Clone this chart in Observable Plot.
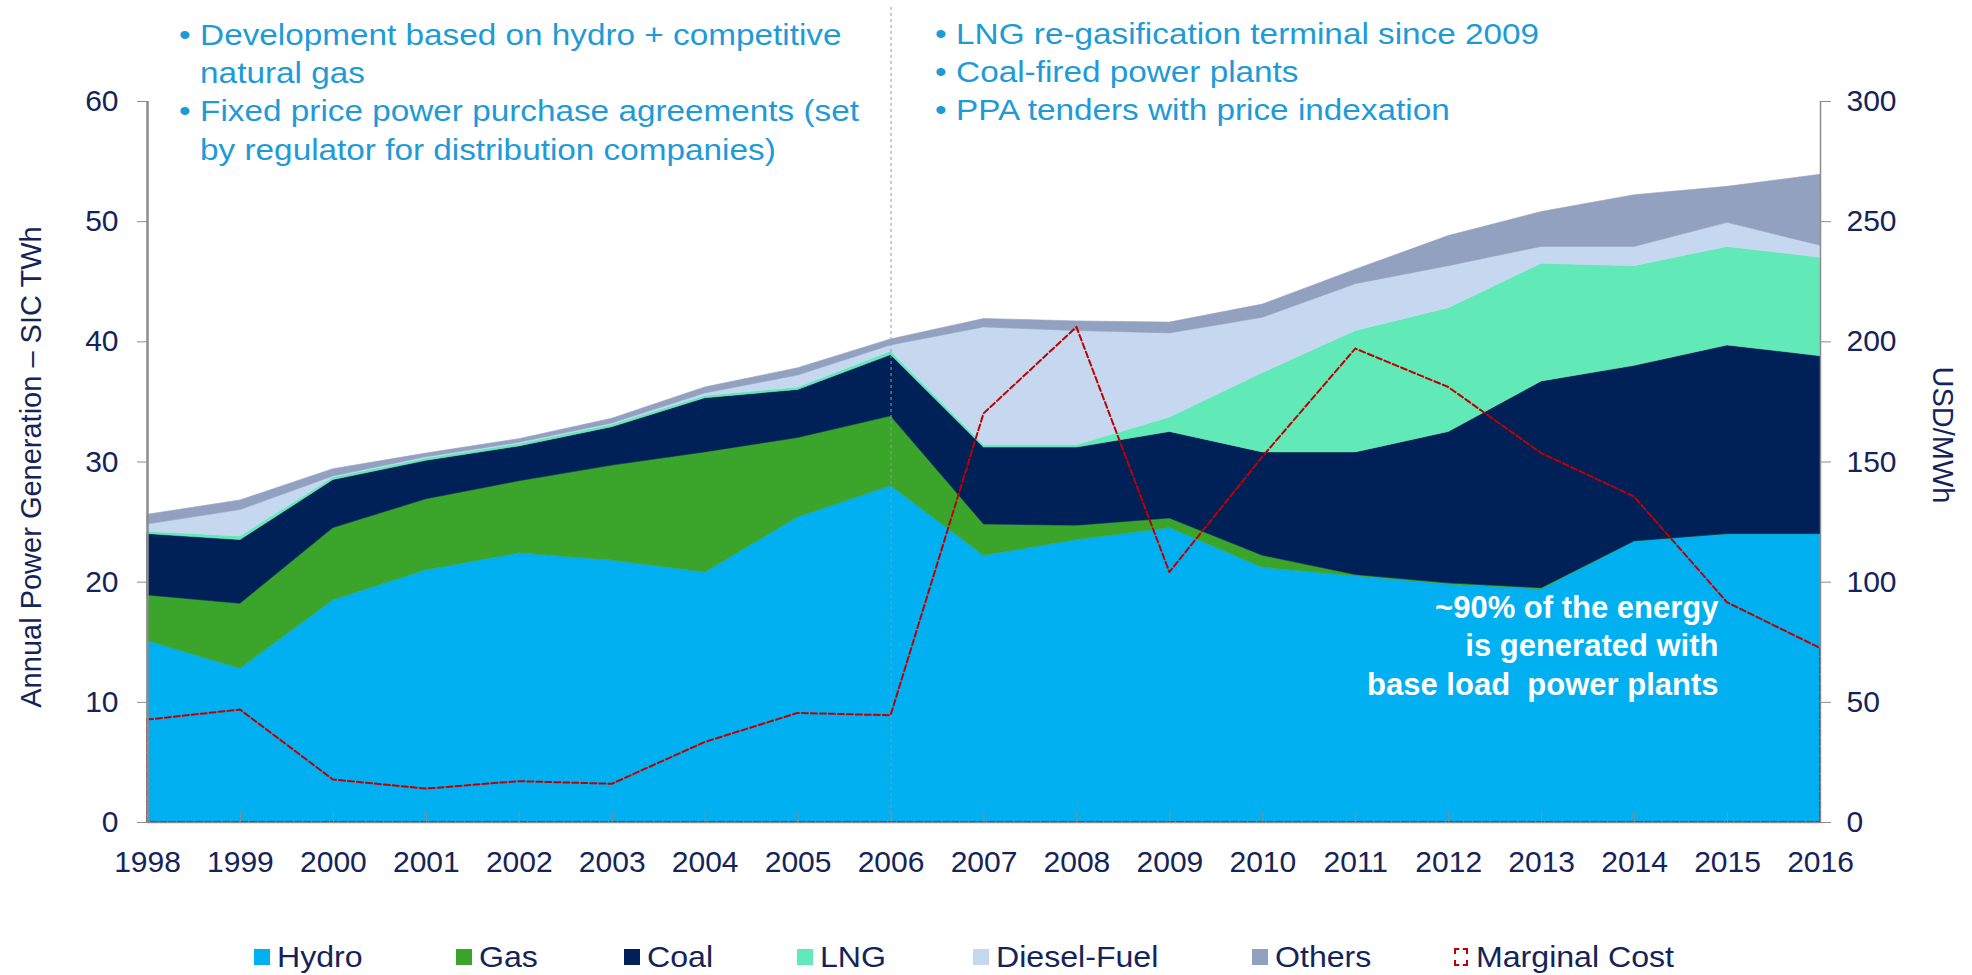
<!DOCTYPE html>
<html>
<head>
<meta charset="utf-8">
<script src="https://cdn.jsdelivr.net/npm/d3@7"></script>
<script src="https://cdn.jsdelivr.net/npm/@observablehq/plot@0.6"></script>
<style>
  html, body { margin: 0; padding: 0; background: #fff; }
  body { width: 1972px; height: 975px; overflow: hidden; font-family: "Liberation Sans", Arial, sans-serif; }
  #wrap { position: relative; width: 1972px; height: 975px; }
  #chart svg { display: block; }
  .note { position: absolute; color: #1E9BD7; font-size: 30px; line-height: 38.2px; white-space: nowrap; transform: scaleX(1.11); transform-origin: left top; }
  .note .row { display: flex; }
  .note .b { width: 19px; flex: none; }
  #legend { position: relative; height: 45px; }
  .li { position: absolute; top: 4px; height: 45px; display: flex; align-items: center; font-size: 30px; color: #14245A; white-space: nowrap; }
  .li .tx { display: inline-block; transform: scaleX(1.07); transform-origin: left center; }
  .sw { width: 16px; height: 16px; margin-right: 7px; box-sizing: border-box; }
</style>
</head>
<body>
<div id="wrap">
  <div id="chart"></div>
  <div id="legend"></div>
</div>
<script>
// ---------------- data ----------------
const years = [1998, 1999, 2000, 2001, 2002, 2003, 2004, 2005, 2006, 2007, 2008, 2009, 2010, 2011, 2012, 2013, 2014, 2015, 2016];
const hydro  = [15.1, 12.8, 18.5, 21.0, 22.4, 21.8, 20.8, 25.4, 28.0, 22.2, 23.5, 24.5, 21.2, 20.5, 19.8, 19.4, 23.4, 24.0, 24.0];
const gas    = [3.8, 5.4, 6.0, 5.9, 6.0, 7.9, 10.0, 6.6, 5.8, 2.6, 1.2, 0.8, 1.0, 0.1, 0.1, 0.1, 0.0, 0.0, 0.0];
const coal   = [5.1, 5.3, 4.0, 3.2, 2.9, 3.2, 4.5, 4.0, 5.1, 6.4, 6.5, 7.2, 8.6, 10.2, 12.6, 17.2, 14.6, 15.7, 14.8];
const lng    = [0.2, 0.3, 0.2, 0.2, 0.2, 0.2, 0.2, 0.2, 0.3, 0.2, 0.2, 1.2, 6.6, 10.1, 10.3, 9.8, 8.3, 8.2, 8.2];
const diesel = [0.6, 2.2, 0.1, 0.1, 0.1, 0.1, 0.2, 1.0, 0.5, 9.8, 9.5, 7.0, 4.6, 3.9, 3.5, 1.4, 1.6, 2.0, 1.0];
const others = [0.8, 0.8, 0.6, 0.3, 0.3, 0.4, 0.5, 0.6, 0.5, 0.7, 0.8, 0.9, 1.1, 1.2, 2.5, 2.9, 4.3, 3.0, 5.9];
const marginalCost = [42.6, 46.8, 17.7, 13.9, 17.0, 15.9, 33.3, 45.4, 44.4, 170, 206, 104, 152, 197, 181, 153.5, 135.4, 91.4, 72.4];

const seriesNames  = ["Hydro", "Gas", "Coal", "LNG", "Diesel-Fuel", "Others"];
const seriesColors = ["#00B0F0", "#3AA52A", "#002158", "#62E9B8", "#C5D8F0", "#93A1C0"];
const costName = "Marginal Cost";
const costColor = "#C00000";

const leftTicks = [0, 10, 20, 30, 40, 50, 60];
const rightTickLabels = [0, 50, 100, 150, 200, 250, 300];
const leftTitle = "Annual Power Generation – SIC TWh";
const rightTitle = "USD/MWh";
const notesLeft = [["Development based on hydro + competitive", "natural gas"], ["Fixed price power purchase agreements (set", "by regulator for distribution companies)"]];
const notesRight = [["LNG re-gasification terminal since 2009"], ["Coal-fired power plants"], ["PPA tenders with price indexation"]];
const baseLoadNote = "~90% of the energy\nis generated with\nbase load  power plants";
const dividerYear = [2006];

// ---------------- build tables ----------------
const seriesValues = [hydro, gas, coal, lng, diesel, others];
const rows = seriesNames.flatMap((s, i) => years.map((y, j) => ({year: y, source: s, value: seriesValues[i][j]})));
const costRows = years.map((y, j) => ({year: y, cost: marginalCost[j]}));
const leftMax = leftTicks[leftTicks.length - 1];
const rightMax = rightTickLabels[rightTickLabels.length - 1];
const costScale = leftMax / rightMax;

const navy = "#14245A";
const axisGray = "#8c8c8c";
const font = '"Liberation Sans", Arial, sans-serif';

const chart = Plot.plot({
  width: 1972,
  height: 930,
  marginLeft: 147,
  marginRight: 152,
  marginTop: 101,
  marginBottom: 108,
  style: {fontFamily: font, background: "#fff", overflow: "visible"},
  x: {domain: [years[0], years[years.length - 1]]},
  y: {domain: [0, leftMax]},
  color: {domain: seriesNames, range: seriesColors},
  marks: [
    Plot.areaY(rows, {x: "year", y: "value", z: "source", fill: "source", stroke: "source", strokeWidth: 0.6, order: seriesNames}),
    Plot.ruleX(dividerYear, {stroke: "#9a9a9a", strokeWidth: 1, strokeDasharray: "3,3", insetTop: -94}),
    Plot.areaY(costRows, {x: "year", y1: 0, y2: d => d.cost * costScale, fill: "none", stroke: costColor, strokeWidth: 2, strokeDasharray: "6,3"}),
    Plot.text([baseLoadNote], {frameAnchor: "right", textAnchor: "end", dx: -102, dy: 182, lineHeight: 1.24, fontSize: 31, fontWeight: "bold", fill: "white"}),
    Plot.ruleX([years[0]], {stroke: axisGray, strokeWidth: 2.5}),
    Plot.ruleY([0], {stroke: axisGray, strokeWidth: 1.5}),
    Plot.axisY(leftTicks, {anchor: "left", tickSize: 10, tickPadding: 19, stroke: axisGray, fill: navy, fontSize: 30, label: null}),
    Plot.axisY(leftTicks, {anchor: "right", tickSize: 10, tickPadding: 16, tickFormat: d => String(rightTickLabels[leftTicks.indexOf(d)]), stroke: axisGray, fill: navy, fontSize: 30, label: null}),
    Plot.ruleX([years[years.length - 1]], {stroke: axisGray, strokeWidth: 1.5}),
    Plot.axisX(years, {anchor: "bottom", tickSize: 0, tickPadding: 28, tickFormat: d => String(d), fill: navy, fontSize: 30, label: null}),
    Plot.axisX(years, {anchor: "bottom", tickSize: 10, insetBottom: 10, tickFormat: () => "", stroke: axisGray, label: null}),
    Plot.text([leftTitle], {frameAnchor: "left", textAnchor: "middle", rotate: -90, dx: -116, dy: 5, fontSize: 29, fill: navy}),
    Plot.text([rightTitle], {frameAnchor: "right", textAnchor: "middle", rotate: 90, dx: 122, dy: -27, fontSize: 29, fill: navy})
  ]
});
document.getElementById("chart").appendChild(chart);

// ---------------- annotations ----------------
function addNote(items, left, top) {
  const div = document.createElement("div");
  div.className = "note";
  div.style.left = left + "px";
  div.style.top = top + "px";
  for (const lines of items) {
    const row = document.createElement("div");
    row.className = "row";
    const b = document.createElement("span");
    b.className = "b";
    b.textContent = "•";
    const t = document.createElement("span");
    t.innerHTML = lines.join("<br>");
    row.appendChild(b);
    row.appendChild(t);
    div.appendChild(row);
  }
  document.getElementById("wrap").appendChild(div);
}
addNote(notesLeft, 179, 16);
addNote(notesRight, 935, 15);

// ---------------- legend ----------------
const legendLefts = [254, 456, 624, 797, 973, 1252, 1454];
const legend = document.getElementById("legend");
const legendNames = [...seriesNames, costName];
legendNames.forEach((name, i) => {
  const item = document.createElement("div");
  item.className = "li";
  item.style.left = legendLefts[i] + "px";
  const sw = document.createElement("span");
  sw.className = "sw";
  if (i < seriesNames.length) {
    sw.style.background = seriesColors[i];
  } else {
    sw.style.border = "2px dashed " + costColor;
    sw.style.width = "14px";
    sw.style.height = "18px";
    sw.style.marginRight = "8px";
  }
  const tx = document.createElement("span");
  tx.className = "tx";
  tx.textContent = name;
  item.appendChild(sw);
  item.appendChild(tx);
  legend.appendChild(item);
});
</script>
</body>
</html>
